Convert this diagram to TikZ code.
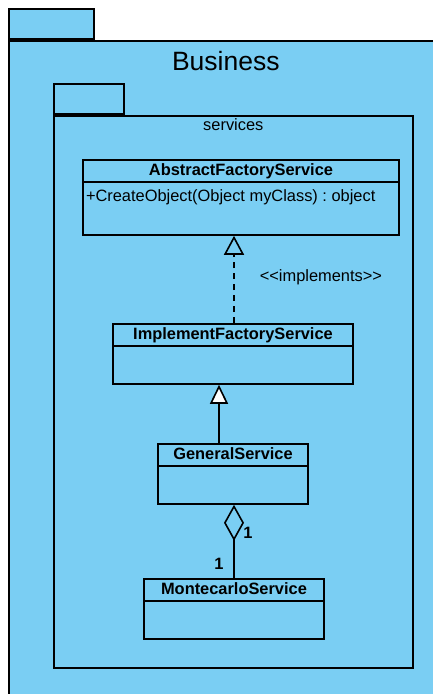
\documentclass[tikz,border=0pt]{standalone}
\usepackage{fontspec}
\usepackage{xcolor}
\usepackage{tikz}
\usetikzlibrary{arrows.meta, calc}
\newfontfamily\umlfont{Liberation Sans}
\definecolor{azzurro}{RGB}{122,206,243}
\frenchspacing

\begin{document}
\begin{tikzpicture}[x = 1pt, y = -1pt, line width = 1.6pt,
    pacchetto/.style = {draw = black, fill = azzurro, inner sep = 0pt},
    classe/.style = {draw = black, fill = azzurro, inner sep = 0pt},
    titolo/.style = {anchor = base, inner sep = 0pt, font = \umlfont\bfseries\fontsize{16.4}{19}\selectfont},
    testo/.style = {inner sep = 0pt, font = \umlfont\fontsize{16.4}{19}\selectfont},
    realizza/.style = {dash pattern = on 6pt off 5pt, -{Triangle[open, length = 19pt, width = 20pt]}},
    eredita/.style = {-{Triangle[open, fill = white, length = 19pt, width = 18pt]}},
    aggrega/.style = {-{Diamond[open, length = 36pt, width = 20pt]}}]
    % parametri
    \pgfmathsetmacro{\sep}{23}
    \pgfmathsetmacro{\base}{16.5}
    % Riquadro
    \useasboundingbox (0,0) rectangle (433,694);
    \clip (0,0) rectangle (433,694);
    \fill[white] (0,0) rectangle (433,694);
    % Pacchetto Business
    \node[pacchetto, anchor = north west, minimum width = 434, minimum height = 680] (business) at (8,40) {};
    \node[pacchetto, anchor = south west, minimum width = 85, minimum height = 30] (business-tab) at (business.north west) {};
    \node[testo, anchor = base, font = \umlfont\fontsize{26.5}{30}\selectfont] (business-nome) at ($(business.north)+(0,30)$) {Business};
    % Pacchetto services
    \node[pacchetto, anchor = north west, minimum width = 359, minimum height = 552] (services) at (53,115) {};
    \node[pacchetto, anchor = south west, minimum width = 70, minimum height = 30] (services-tab) at (services.north west) {};
    \node[testo, anchor = base] (services-nome) at ($(services.north)+(0,15.7)$) {services};
    % AbstractFactoryService
    \node[classe, minimum width = 316, minimum height = 75] (astratta) at (241,197.5) {};
    \draw ($(astratta.north west)+(0,\sep)$) -- ($(astratta.north east)+(0,\sep)$);
    \node[titolo] (astratta-nome) at ($(astratta.north)+(0,\base)$) {AbstractFactoryService};
    \node[testo, anchor = base west] (astratta-metodo) at ($(astratta.north west)+(3,42)$) {+CreateObject(Object myClass) : object};
    % ImplementFactoryService
    \node[classe, minimum width = 240, minimum height = 60] (implementa) at (233,354) {};
    \draw ($(implementa.north west)+(0,\sep)$) -- ($(implementa.north east)+(0,\sep)$);
    \node[titolo] (implementa-nome) at ($(implementa.north)+(0,\base)$) {ImplementFactoryService};
    % GeneralService
    \node[classe, minimum width = 150, minimum height = 60] (generale) at (233,474) {};
    \draw ($(generale.north west)+(0,\sep)$) -- ($(generale.north east)+(0,\sep)$);
    \node[titolo] (generale-nome) at ($(generale.north)+(0,\base)$) {GeneralService};
    % MontecarloService
    \node[classe, minimum width = 180, minimum height = 60] (montecarlo) at (234,609) {};
    \draw ($(montecarlo.north west)+(0,\sep)$) -- ($(montecarlo.north east)+(0,\sep)$);
    \node[titolo] (montecarlo-nome) at ($(montecarlo.north)+(0,\base)$) {MontecarloService};
    % Relazioni
    \draw[realizza] ($(implementa.north)+(1,0)$) -- ($(astratta.south)+(-7,0)$) node[testo, pos = 0.53, anchor = west, xshift = 25] (implements) {<<implements>>};
    \draw[eredita] ($(generale.north)+(-14,0)$) -- ($(implementa.south)+(-14,0)$);
    \draw[aggrega] (montecarlo.north) -- (montecarlo.north |- generale.south) node[titolo, anchor = center, pos = 0.62, xshift = 14] (molt-generale) {1} node[titolo, anchor = center, pos = 0.2, xshift = -15] (molt-montecarlo) {1};
\end{tikzpicture}
\end{document}
